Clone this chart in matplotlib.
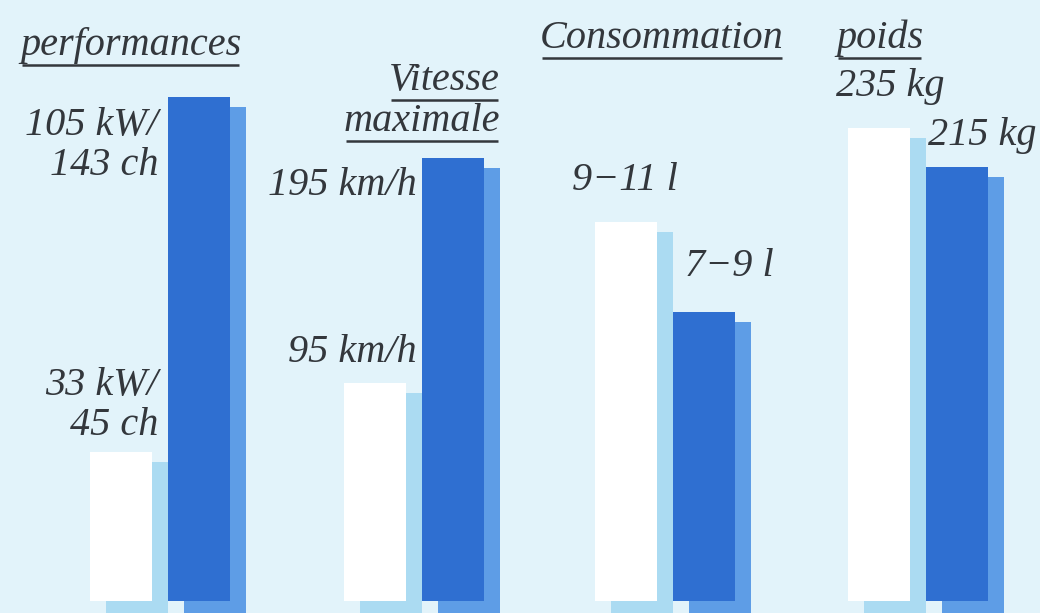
import matplotlib.pyplot as plt
import numpy as np

# Data (bar heights in chart units, baseline = 0)
groups = ['performances', 'Vitesse maximale', 'Consommation', 'poids']
old_heights = [149, 218, 379, 473]   # white bars (old model)
new_heights = [504, 443, 289, 434]   # blue bars (new model)
old_labels = ['33 kW/\n45 ch', '95 km/h', '9\u221211 l', '235 kg']
new_labels = ['105 kW/\n143 ch', '195 km/h', '7\u22129 l', '215 kg']

bg = '#e2f3fa'
white_shadow = '#abdbf2'
blue = '#2f6fd1'
blue_shadow = '#5e9de6'
ink = '#33373c'

fig = plt.figure(figsize=(10.4, 6.13), dpi=100)
fig.patch.set_facecolor(bg)
ax = fig.add_axes([0, 0, 1, 1])
ax.set_facecolor(bg)
ax.set_xlim(0, 1040)
ax.set_ylim(-12, 601)
ax.axis('off')

x_start = np.array([90, 344, 595, 848])
width = 62
gap = 16
dx, dy = 16, 10

# shadows first, then bars
ax.bar(x_start + dx, np.array(old_heights) + 40, bottom=-40 - dy, width=width,
       align='edge', color=white_shadow, linewidth=0)
ax.bar(x_start + width + gap + dx, np.array(new_heights) + 40, bottom=-40 - dy, width=width,
       align='edge', color=blue_shadow, linewidth=0)
ax.bar(x_start, old_heights, width=width, align='edge', color='white', linewidth=0)
ax.bar(x_start + width + gap, new_heights, width=width, align='edge', color=blue, linewidth=0)

font = dict(family='Liberation Serif', style='italic', color=ink, fontsize=29)

# value labels
ax.text(158, 601 - 135, '105 kW/', ha='right', va='baseline', **font)
ax.text(158, 601 - 175, '143 ch', ha='right', va='baseline', **font)
ax.text(158, 601 - 395, '33 kW/', ha='right', va='baseline', **font)
ax.text(158, 601 - 435, '45 ch', ha='right', va='baseline', **font)
ax.text(417, 601 - 195, new_labels[1], ha='right', va='baseline', **font)
ax.text(417, 601 - 362, old_labels[1], ha='right', va='baseline', **font)
ax.text(572, 601 - 190, old_labels[2], ha='left', va='baseline', **font)
ax.text(685, 601 - 276, new_labels[2], ha='left', va='baseline', **font)
ax.text(836, 601 - 96, old_labels[3], ha='left', va='baseline', **font)
ax.text(928, 601 - 145, new_labels[3], ha='left', va='baseline', **font)

# underlined headings
titles = [
    ('performances', 20, 55, 'left'),
    ('Vitesse', 500, 90, 'right'),
    ('maximale', 500, 131, 'right'),
    ('Consommation', 540, 48, 'left'),
    ('poids', 836, 48, 'left'),
]
heads = []
for txt, x, y, ha in titles:
    t = ax.text(x, 601 - y, txt, ha=ha, va='baseline', **font)
    heads.append((t, y))

fig.canvas.draw()
renderer = fig.canvas.get_renderer()
inv = ax.transData.inverted()
for t, y in heads:
    bb = t.get_window_extent(renderer)
    x0, _ = inv.transform((bb.x0, 0))
    x1, _ = inv.transform((bb.x1, 0))
    ax.plot([x0 + 2, x1 - 2], [601 - y - 10, 601 - y - 10], color=ink, lw=1.8,
            solid_capstyle='butt')

fig.savefig('out.png', dpi=100, facecolor=bg)
